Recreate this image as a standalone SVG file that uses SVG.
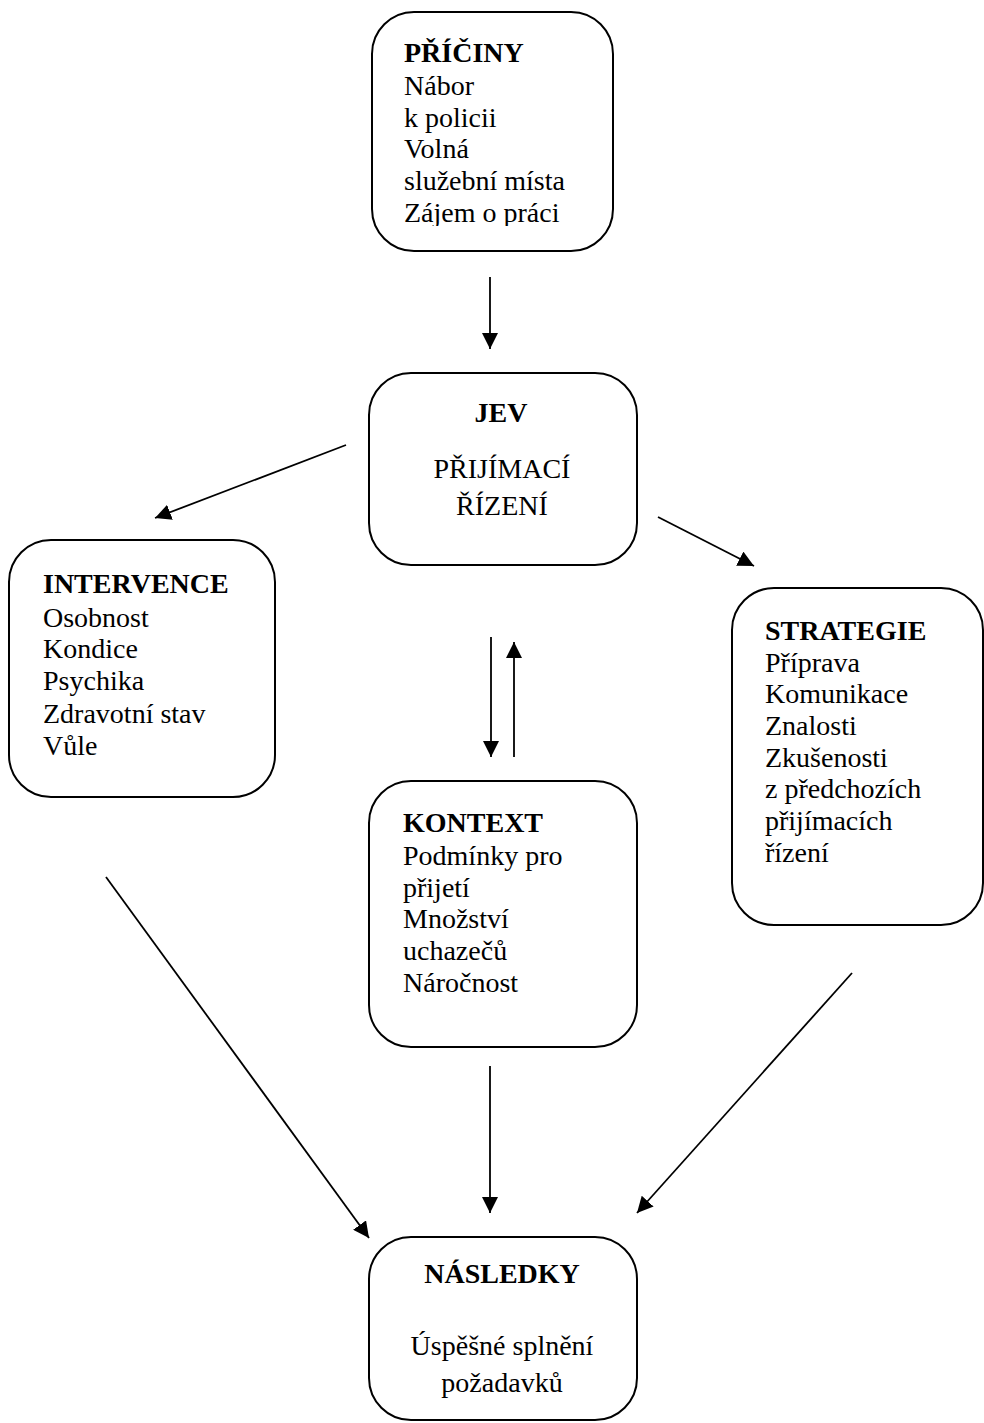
<svg xmlns="http://www.w3.org/2000/svg" width="984" height="1423" viewBox="0 0 984 1423">
<style>
  .box { fill: #ffffff; stroke: #000000; stroke-width: 2; }
  .t { font-family: "Liberation Serif", "Times New Roman", serif; font-size: 28px; fill: #000000; }
  .b { font-weight: bold; }
  .c { text-anchor: middle; }
  .ln { stroke: #000000; stroke-width: 1.8; fill: none; marker-end: url(#ah); }
</style>
<defs>
  <marker id="ah" markerUnits="userSpaceOnUse" markerWidth="16" markerHeight="16" viewBox="0 0 16 16" refX="16" refY="8" orient="auto">
    <path d="M0,0 L16,8 L0,16 Z" fill="#000000"/>
  </marker>
  <clipPath id="clipP">
    <rect x="372" y="12" width="241" height="214"/>
  </clipPath>
</defs>
<rect width="984" height="1423" fill="#ffffff"/>

<g id="connectors">
  <line class="ln" x1="490" y1="277" x2="490" y2="349"/>
  <line class="ln" x1="346" y1="445" x2="155" y2="518"/>
  <line class="ln" x1="658" y1="517" x2="754" y2="566"/>
  <line class="ln" x1="491" y1="637" x2="491" y2="757"/>
  <line class="ln" x1="514" y1="757" x2="514" y2="642"/>
  <line class="ln" x1="106" y1="877" x2="369" y2="1238"/>
  <line class="ln" x1="490" y1="1066" x2="490" y2="1213"/>
  <line class="ln" x1="852" y1="973" x2="637" y2="1213"/>
</g>

<g id="pricinY">
  <rect class="box" x="372" y="12" width="241" height="239" rx="42" ry="42"/>
  <g clip-path="url(#clipP)">
    <text class="t b" x="404" y="62">PŘÍČINY</text>
    <text class="t" x="404" y="95">Nábor</text>
    <text class="t" x="404" y="127">k policii</text>
    <text class="t" x="404" y="158">Volná</text>
    <text class="t" x="404" y="190">služební místa</text>
    <text class="t" x="404" y="222">Zájem o práci</text>
  </g>
</g>

<g id="jev">
  <rect class="box" x="369" y="373" width="268" height="192" rx="42" ry="42"/>
  <text class="t b c" x="501" y="422">JEV</text>
  <text class="t c" x="502" y="478">PŘIJÍMACÍ</text>
  <text class="t c" x="502" y="515">ŘÍZENÍ</text>
</g>

<g id="intervence">
  <rect class="box" x="9" y="540" width="266" height="257" rx="42" ry="42"/>
  <text class="t b" x="43" y="593">INTERVENCE</text>
  <text class="t" x="43" y="627">Osobnost</text>
  <text class="t" x="43" y="658">Kondice</text>
  <text class="t" x="43" y="690">Psychika</text>
  <text class="t" x="43" y="723">Zdravotní stav</text>
  <text class="t" x="43" y="755">Vůle</text>
</g>

<g id="strategie">
  <rect class="box" x="732" y="588" width="251" height="337" rx="42" ry="42"/>
  <text class="t b" x="765" y="640">STRATEGIE</text>
  <text class="t" x="765" y="672">Příprava</text>
  <text class="t" x="765" y="703">Komunikace</text>
  <text class="t" x="765" y="735">Znalosti</text>
  <text class="t" x="765" y="767">Zkušenosti</text>
  <text class="t" x="765" y="798">z předchozích</text>
  <text class="t" x="765" y="830">přijímacích</text>
  <text class="t" x="765" y="862">řízení</text>
</g>

<g id="kontext">
  <rect class="box" x="369" y="781" width="268" height="266" rx="42" ry="42"/>
  <text class="t b" x="403" y="832">KONTEXT</text>
  <text class="t" x="403" y="865">Podmínky pro</text>
  <text class="t" x="403" y="897">přijetí</text>
  <text class="t" x="403" y="928">Množství</text>
  <text class="t" x="403" y="960">uchazečů</text>
  <text class="t" x="403" y="992">Náročnost</text>
</g>

<g id="nasledky">
  <rect class="box" x="369" y="1237" width="268" height="183" rx="42" ry="42"/>
  <text class="t b c" x="502" y="1283">NÁSLEDKY</text>
  <text class="t c" x="502" y="1355">Úspěšné splnění</text>
  <text class="t c" x="502" y="1392">požadavků</text>
</g>
</svg>
